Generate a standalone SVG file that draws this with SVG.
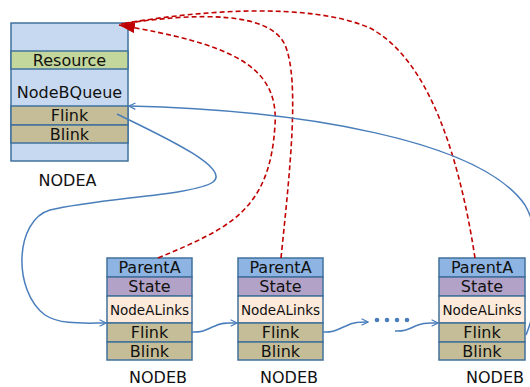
<svg xmlns="http://www.w3.org/2000/svg" width="530" height="387" viewBox="0 0 530 387">
  <style>
    .cell { stroke: #41719C; stroke-width: 1.5; }
    .blank { fill: #C6D9F1; }
    .res { fill: #C3D69B; }
    .link { fill: #C4BD97; }
    .par { fill: #8DB4E2; }
    .st { fill: #B3A2C7; }
    .nal { fill: #FDEADA; }
    text { font-family: "DejaVu Sans", "Liberation Sans", sans-serif; fill: #111; text-anchor: middle; }
    .t { font-size: 16px; }
    .ts { font-size: 13.5px; }
    .lbl { font-size: 16px; }
    .blue { fill: none; stroke: #4A7EBB; stroke-width: 1.5; }
    .red { fill: none; stroke: #C00000; stroke-width: 1.6; stroke-dasharray: 5 3; }
  </style>
  <defs>
    <marker id="openArrow" viewBox="0 0 10 10" refX="9" refY="5" markerWidth="8" markerHeight="8" markerUnits="userSpaceOnUse" orient="auto">
      <polyline points="1,1 9,5 1,9" fill="none" stroke="#4A7EBB" stroke-width="1.5"/>
    </marker>
    <marker id="redArrow" viewBox="0 0 16 11" refX="16" refY="5.5" markerWidth="16" markerHeight="11" markerUnits="userSpaceOnUse" orient="auto">
      <polygon points="0,0 16,5.5 0,11" fill="#C00000"/>
    </marker>
  </defs>

  <!-- NODEA -->
  <g id="nodeA">
    <rect class="cell blank" x="11" y="23" width="117" height="138"/>
    <rect class="cell res" x="11" y="51" width="117" height="18"/>
    <rect class="cell link" x="11" y="106" width="117" height="19"/>
    <rect class="cell link" x="11" y="125" width="117" height="18"/>
    <text class="t" x="69.5" y="66">Resource</text>
    <text class="t" x="69.5" y="98">NodeBQueue</text>
    <text class="t" x="69.5" y="121">Flink</text>
    <text class="t" x="69.5" y="140">Blink</text>
    <text class="lbl" x="67.5" y="186">NODEA</text>
  </g>

  <!-- NODEB #1 -->
  <g id="nodeB1">
    <rect class="cell par" x="107" y="258" width="85" height="19"/>
    <rect class="cell st" x="107" y="277" width="85" height="19"/>
    <rect class="cell nal" x="107" y="296" width="85" height="27"/>
    <rect class="cell link" x="107" y="323" width="85" height="19"/>
    <rect class="cell link" x="107" y="342" width="85" height="18"/>
    <text class="t" x="149.5" y="273">ParentA</text>
    <text class="t" x="149.5" y="292">State</text>
    <text class="ts" x="149.5" y="315">NodeALinks</text>
    <text class="t" x="149.5" y="338">Flink</text>
    <text class="t" x="149.5" y="357">Blink</text>
    <text class="lbl" x="158" y="383">NODEB</text>
  </g>

  <!-- NODEB #2 -->
  <g id="nodeB2">
    <rect class="cell par" x="238" y="258" width="85" height="19"/>
    <rect class="cell st" x="238" y="277" width="85" height="19"/>
    <rect class="cell nal" x="238" y="296" width="85" height="27"/>
    <rect class="cell link" x="238" y="323" width="85" height="19"/>
    <rect class="cell link" x="238" y="342" width="85" height="18"/>
    <text class="t" x="280.5" y="273">ParentA</text>
    <text class="t" x="280.5" y="292">State</text>
    <text class="ts" x="280.5" y="315">NodeALinks</text>
    <text class="t" x="280.5" y="338">Flink</text>
    <text class="t" x="280.5" y="357">Blink</text>
    <text class="lbl" x="289" y="383">NODEB</text>
  </g>

  <!-- NODEB #n -->
  <g id="nodeB3">
    <rect class="cell par" x="439" y="258" width="86" height="19"/>
    <rect class="cell st" x="439" y="277" width="86" height="19"/>
    <rect class="cell nal" x="439" y="296" width="86" height="27"/>
    <rect class="cell link" x="439" y="323" width="86" height="19"/>
    <rect class="cell link" x="439" y="342" width="86" height="18"/>
    <text class="t" x="482" y="273">ParentA</text>
    <text class="t" x="482" y="292">State</text>
    <text class="ts" x="482" y="315">NodeALinks</text>
    <text class="t" x="482" y="338">Flink</text>
    <text class="t" x="482" y="357">Blink</text>
    <text class="lbl" x="495" y="383">NODEB</text>
  </g>

  <!-- ellipsis between nodes -->
  <g id="ellipsis" fill="#4A7EBB">
    <circle cx="377" cy="320" r="2.3"/>
    <circle cx="387" cy="320" r="2.3"/>
    <circle cx="397" cy="320" r="2.3"/>
    <circle cx="407" cy="320" r="2.3"/>
  </g>

  <g id="connectors">
    <!-- ParentA back-pointers to NODEA -->
    <path class="red" d="M158,258 C 230,228 270,210 275,125 C 279,65 230,44 119,25" marker-end="url(#redArrow)"/>
    <path class="red" d="M281,258 C 290,170 300,80 285,45 C 270,12 200,12 121,24"/>
    <path class="red" d="M475,258 C 460,160 430,60 370,28 C 310,2 200,10 121,24"/>
    <!-- forward list links -->
    <path class="blue" d="M117,114 C 160,135 232,168 213,182 C 195,195 100,198 50,210 C 15,220 12,290 45,315 C 60,325 85,323 106,323" marker-end="url(#openArrow)"/>
    <path class="blue" d="M192,332 C 205,333 208,328 215,326 C 222,322 228,323 237,323" marker-end="url(#openArrow)"/>
    <path class="blue" d="M323,332 C 336,333 339,328 346,326 C 353,322 360,322 368,322" marker-end="url(#openArrow)"/>
    <path class="blue" d="M395,331 C 408,332 411,327 418,325 C 425,322 430,323 438,323" marker-end="url(#openArrow)"/>
    <path class="blue" d="M526,335 C 540,300 545,240 525,205 C 480,140 300,110 129,106" marker-end="url(#openArrow)"/>
  </g>
</svg>
